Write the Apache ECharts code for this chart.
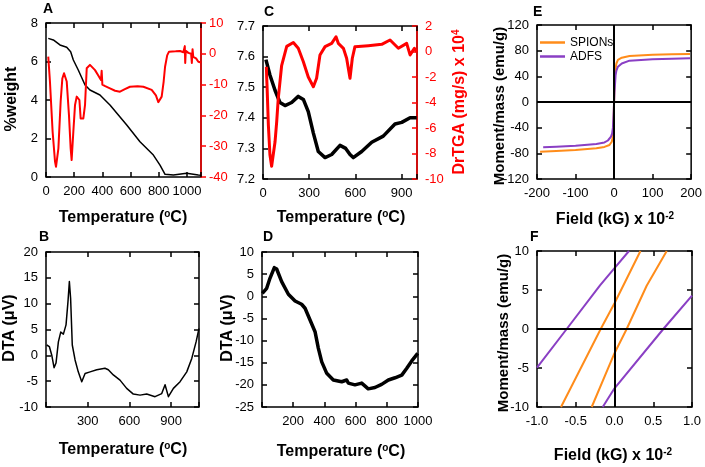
<!DOCTYPE html>
<html><head><meta charset="utf-8">
<script src="https://cdn.jsdelivr.net/npm/echarts@6/dist/echarts.min.js"></script>
<style>html,body{margin:0;padding:0;background:#fff}#c{width:705px;height:467px}</style>
</head><body><div id="c"></div>
<script>
// ---- Data ----
// Panel A: TGA %weight (left axis) and DrTGA (right axis, red) vs temperature
const aWeight = [[16,7.2],[52,7.12],[99,6.86],[147,6.74],[175,6.51],[194,6.08],[229,5.56],[277,4.78],[312,4.52],[383,4.26],[454,3.74],[573,2.70],[667,1.83],[762,1.14],[809,0.62],[845,0.14],[904,0.10],[998,0.19],[1081,0.10],[1100,0.09]];
const aDrtga = [[16,-0.9],[28,-9],[47,-25.3],[64,-35],[71,-36.7],[88,-30.7],[104,-15.5],[116,-8],[128,-6.3],[147,-9],[163,-19.9],[175,-30.7],[182,-34.5],[194,-25.3],[206,-16.6],[218,-13.9],[230,-14.5],[237,-15],[246,-21],[265,-21],[277,-16.6],[289,-4.7],[312,-3.6],[348,-5.3],[370,-7],[390,-8.5],[395,-5.5],[400,-10],[420,-10.5],[454,-11.2],[490,-12],[525,-12.3],[560,-11.5],[596,-10.7],[650,-10.5],[691,-10.7],[750,-11.7],[780,-13.5],[797,-15.7],[810,-15.2],[821,-13.9],[835,-9],[845,-4.2],[860,-0.5],[873,0.7],[920,0.8],[951,0.9],[975,0.5],[985,2.5],[988,-3],[992,1],[1010,0.3],[1030,0],[1035,-3],[1040,1.5],[1045,-1],[1065,-1.5],[1081,-2.6],[1100,-2.8]];
// Panel B: DTA
const bDta = [[5,2.0],[24,1.7],[41,0.07],[58,-2.4],[72,-1.5],[89,2.6],[106,4.5],[125,4.1],[144,5.9],[158,10.4],[168,14.3],[177,11.0],[189,2.0],[209,-0.9],[232,-3.2],[257,-5.1],[281,-3.5],[317,-3.2],[365,-2.8],[424,-2.5],[448,-2.8],[484,-3.8],[532,-4.8],[580,-6.4],[628,-7.5],[676,-7.7],[724,-7.5],[784,-8.0],[832,-7.4],[856,-5.7],[880,-8.0],[916,-6.4],[964,-5.1],[1012,-3.2],[1048,-0.6],[1079,2.6],[1100,5.2]];
// Panel C: TGA (left) and DrTGA (right, red)
const cWeight = [[19,7.59],[45,7.54],[78,7.49],[110,7.45],[143,7.44],[186,7.45],[229,7.47],[262,7.46],[294,7.42],[327,7.35],[359,7.29],[403,7.27],[446,7.28],[500,7.31],[537,7.30],[565,7.28],[586,7.27],[641,7.29],[706,7.32],[781,7.34],[857,7.38],[901,7.385],[955,7.40],[998,7.40]];
const cDrtga = [[22,-1.2],[24,-2.05],[26,-2.6],[35,-5.8],[45,-8.1],[56,-9.0],[78,-7.1],[89,-5.5],[99,-3.7],[121,-1.1],[154,0.4],[197,0.7],[229,0.25],[262,-0.8],[294,-2.0],[327,-2.76],[348,-2.1],[370,-0.27],[403,0.38],[446,0.64],[474,1.16],[489,0.64],[522,0.25],[543,-0.53],[565,-2.1],[580,-0.53],[597,0.38],[684,0.46],[771,0.56],[825,0.9],[879,0.25],[933,0.64],[955,-0.27],[983,0.25],[1000,-0.02]];
// Panel D: DTA
const dDta = [[2,0.67],[30,1.8],[51,4.06],[79,6.46],[94,6.16],[126,3.3],[169,0.45],[212,-1.06],[254,-1.8],[276,-2.7],[308,-5.35],[340,-8.0],[361,-11.7],[383,-14.8],[415,-17.4],[457,-18.9],[511,-19.3],[543,-18.9],[553,-19.6],[596,-20.0],[639,-19.6],[681,-20.9],[724,-20.6],[767,-19.9],[810,-18.9],[853,-18.4],[896,-17.8],[927,-16.3],[960,-14.6],[998,-12.9]];
// Panel E: magnetisation loops
const eSpions = [[-192,-77.4],[-150,-76.2],[-100,-74.8],[-46,-72.2],[-25,-70],[-12,-67],[-6,-62],[-3,-54],[-2,-45],[-1,-25],[0,0],[1,25],[2,42],[4,52.5],[6,60],[10,65.5],[20,69],[40,71.7],[100,73.5],[150,74.3],[197,74.8]];
const eAdfs = [[-184,-70.6],[-150,-69.6],[-100,-68],[-46,-65.5],[-25,-63],[-16,-60],[-8,-54],[-5,-49],[-3,-40],[-1,-15],[0,0],[1,15],[3,33],[4,42],[6,49],[10,55],[20,60],[40,64.4],[100,66.5],[150,67.3],[197,68]];
// Panel F: low-field detail (two branches each)
const fSpionsUp = [[-0.69,-10],[-0.178,0],[0,3.3],[0.335,10]];
const fSpionsDown = [[-0.294,-10],[0,-3.1],[0.157,0],[0.415,5.55],[0.674,10]];
const fAdfsUp = [[-1,-4.96],[-0.617,0],[-0.187,5.6],[0,7.8],[0.187,10]];
const fAdfsDown = [[-0.152,-10],[0,-7.6],[0.63,0],[1,4.27]];
// Tick labels
const aXLabels = [0,200,400,600,800,1000];
const bXLabels = [300,600,900];
const cXLabels = [0,300,600,900];
const dXLabels = [200,400,600,800,1000];

const FONT = '"Liberation Sans", Arial, sans-serif';
const RED = '#ff0000', ORANGE = '#ff8c1a', PURPLE = '#8a3fc4';

const grid = [
  {left:46, top:23, width:155, height:154},
  {left:46, top:252, width:153, height:155},
  {left:263, top:26, width:154, height:153},
  {left:262, top:252, width:156, height:155},
  {left:537, top:25, width:155, height:154},
  {left:537, top:251, width:155, height:156}
].map(g => Object.assign(g, {show:true, borderColor:'#000', borderWidth:1.5, backgroundColor:'rgba(0,0,0,0)'}));

function ax(gi, pos, min, max, interval, o) {
  o = o || {};
  const col = o.color || '#000';
  return {
    type:'value', gridIndex:gi, position:pos, min:min, max:max, interval:interval,
    axisLine:{show:!!o.line, onZero:false, lineStyle:{color:col, width:1.5}},
    axisTick:{show:true, inside:!o.outside, length:5, lineStyle:{color:col, width:1.5}},
    axisLabel:{show:!o.noLabel, color:col, fontSize:13, fontFamily:FONT, margin:8,
      formatter:o.fmt || (v => String(v))},
    splitLine:{show:false}
  };
}
const only = (list, f) => v => list.some(x => Math.abs(x - v) < 1e-6) ? (f ? f(v) : String(v)) : '';

const xAxis = [
  ax(0,'bottom',0,1100,200,{fmt:only(aXLabels)}), ax(0,'top',0,1100,200,{noLabel:true}),
  ax(1,'bottom',0,1100,300,{fmt:only(bXLabels)}), ax(1,'top',0,1100,300,{noLabel:true}),
  ax(2,'bottom',0,1000,300,{fmt:only(cXLabels)}), ax(2,'top',0,1000,300,{noLabel:true}),
  ax(3,'bottom',0,1000,200,{fmt:only(dXLabels)}), ax(3,'top',0,1000,200,{noLabel:true}),
  ax(4,'bottom',-200,200,100), ax(4,'top',-200,200,100,{noLabel:true}),
  ax(5,'bottom',-1,1,0.5,{fmt:v=>v.toFixed(1)}), ax(5,'top',-1,1,0.5,{noLabel:true})
];
const yAxis = [
  ax(0,'left',0,8,2), ax(0,'right',-40,10,10,{color:RED, line:true, outside:true}),
  ax(1,'left',-10,20,5), ax(1,'right',-10,20,5,{noLabel:true}),
  ax(2,'left',7.2,7.7,0.1,{fmt:v=>v.toFixed(1)}), ax(2,'right',-10,2,2,{color:RED, line:true}),
  ax(3,'left',-25,10,5), ax(3,'right',-25,10,5,{noLabel:true}),
  ax(4,'left',-120,120,40), ax(4,'right',-120,120,40,{noLabel:true}),
  ax(5,'left',-10,10,5), ax(5,'right',-10,10,5,{noLabel:true})
];

function ln(name, data, xi, yi, color, width, extra) {
  return Object.assign({type:'line', name:name, data:data, xAxisIndex:xi, yAxisIndex:yi,
    showSymbol:false, symbol:'none', lineStyle:{color:color, width:width, join:'round'}, itemStyle:{color:color},
    clip:true, silent:true}, extra || {});
}
const zeroLines = {markLine:{silent:true, symbol:['none','none'], label:{show:false},
  lineStyle:{color:'#000', type:'solid', width:2}, data:[{yAxis:0},{xAxis:0}]}};

const series = [
  ln('aW', aWeight, 0, 0, '#000', 1.5),
  ln('aD', aDrtga, 0, 1, RED, 2),
  ln('bD', bDta, 2, 2, '#000', 1.5),
  ln('cW', cWeight, 4, 4, '#000', 3.5),
  ln('cD', cDrtga, 4, 5, RED, 3),
  ln('dD', dDta, 6, 6, '#000', 3.5),
  ln('SPIONs', eSpions, 8, 8, ORANGE, 2, zeroLines),
  ln('ADFS', eAdfs, 8, 8, PURPLE, 2),
  ln('SPIONs', fSpionsUp, 10, 10, ORANGE, 2, zeroLines),
  ln('SPIONs', fSpionsDown, 10, 10, ORANGE, 2),
  ln('ADFS', fAdfsUp, 10, 10, PURPLE, 2),
  ln('ADFS', fAdfsDown, 10, 10, PURPLE, 2)
];

const TS = {n:{fontSize:16, fontWeight:'bold', fontFamily:FONT, fill:'#000', lineHeight:18},
            s:{fontSize:10, fontWeight:'bold', fontFamily:FONT, fill:'#000', verticalAlign:'top', lineHeight:18},
            r:{fontSize:16, fontWeight:'bold', fontFamily:FONT, fill:RED, lineHeight:18},
            rs:{fontSize:10, fontWeight:'bold', fontFamily:FONT, fill:RED, verticalAlign:'top', lineHeight:18},
            m:{fontSize:15, fontWeight:'bold', fontFamily:FONT, fill:'#000', lineHeight:18}};
function title(text, x, y, rot) {
  return {type:'text', x:x, y:y, rotation:rot ? Math.PI/2 : 0, silent:true,
    style:{text:text, rich:TS, align:'center', verticalAlign:'middle', textAlign:'center', textVerticalAlign:'middle'}};
}
function letter(t, x, y) {
  return {type:'text', x:x, y:y, silent:true,
    style:{text:t, font:'bold 14px ' + FONT, fill:'#000', align:'left', verticalAlign:'top'}};
}
const TEMP = '{n|Temperature (}{s|o}{n|C)}';
const graphic = [
  letter('A',43,2), letter('C',264,5), letter('E',533,5),
  letter('B',39,230), letter('D',263,230), letter('F',530,230),
  title(TEMP,123,218), title(TEMP,123,450), title(TEMP,341,218), title(TEMP,341,452),
  title('{n|Field (kG) x 10}{s|-2}',615,220), title('{n|Field (kG) x 10}{s|-2}',613,456),
  title('{n|%weight}',12,99,true), title('{n|DTA (μV)}',10,328,true),
  title('{r|DrTGA (mg/s) x 10}{rs|4}',460,102,true), title('{n|DTA (μV)}',228,328,true),
  title('{m|Moment/mass (emu/g)}',500,106,true), title('{m|Moment/mass (emu/g)}',504,333,true)
];

const chart = echarts.init(document.getElementById('c'), null, {renderer:'canvas'});
chart.setOption({
  animation:false, backgroundColor:'#fff',
  grid:grid, xAxis:xAxis, yAxis:yAxis, series:series, graphic:graphic,
  legend:{data:['SPIONs','ADFS'], left:540, top:36, orient:'vertical', icon:'rect',
    itemWidth:25, itemHeight:2.5, itemGap:1, padding:0, selectedMode:false,
    textStyle:{fontSize:12, fontFamily:FONT, color:'#000', lineHeight:13}}
});
</script></body></html>
